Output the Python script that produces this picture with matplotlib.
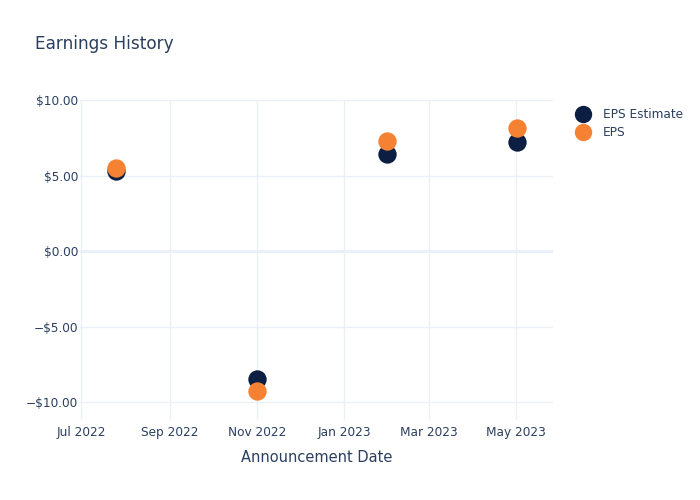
import matplotlib
matplotlib.use('Agg')
import matplotlib.pyplot as plt
import matplotlib.dates as mdates
from matplotlib.lines import Line2D
import pandas as pd

# Data
dates = ['2022-07-25', '2022-11-01', '2023-01-31', '2023-05-02']
eps_estimate = [5.30, -8.48, 6.42, 7.22]
eps_actual = [5.50, -9.27, 7.28, 8.15]
y_ticks = [-10, -5, 0, 5, 10]
x_ticks = ['2022-07-01', '2022-09-01', '2022-11-01', '2023-01-01', '2023-03-01', '2023-05-01']

text_color = '#2a3f5f'
grid_color = '#ebf0f8'
navy = '#0c1e42'
orange = '#f58233'

x = pd.to_datetime(dates)

fig = plt.figure(figsize=(7, 5), dpi=100)
ax = fig.add_axes([80 / 700, 80 / 500, 473 / 700, 320 / 500])

ax.scatter(x, eps_estimate, s=175, color=navy, zorder=3, linewidths=0)
ax.scatter(x, eps_actual, s=175, color=orange, zorder=4, linewidths=0)

ax.set_xlim(pd.Timestamp('2022-06-30'), pd.Timestamp('2023-05-27'))
ax.set_ylim(-11.19, 10.0)

ax.set_xticks(pd.to_datetime(x_ticks))
ax.xaxis.set_major_formatter(mdates.DateFormatter('%b %Y'))
ax.set_yticks(y_ticks)
ax.set_yticklabels([('\u2212$%.2f' % -v) if v < 0 else ('$%.2f' % v) for v in y_ticks])

ax.grid(True, color=grid_color, linewidth=1, zorder=0)
ax.axhline(0, color=grid_color, linewidth=2, zorder=1)
for s in ax.spines.values():
    s.set_visible(False)
ax.tick_params(length=0, labelsize=8.7, labelcolor=text_color)
ax.tick_params(axis='y', pad=1.5)
ax.tick_params(axis='x', pad=4)
ax.set_xlabel('Announcement Date', fontsize=10.5, color=text_color, labelpad=8)

fig.text(35 / 700, 1 - 44 / 500, 'Earnings History', fontsize=12.2, color=text_color, va='center')

handles = [
    Line2D([], [], marker='o', linestyle='', markersize=11.5, color=navy, label='EPS Estimate'),
    Line2D([], [], marker='o', linestyle='', markersize=11.5, color=orange, label='EPS'),
]
fig.legend(handles=handles, loc='upper left', bbox_to_anchor=(570.5 / 700, 1 - 108 / 500),
           frameon=False, fontsize=8.7, labelcolor=text_color, handletextpad=0.65,
           labelspacing=0.45, borderaxespad=0, borderpad=0, handlelength=2.0)

plt.savefig('out.png', dpi=100)
